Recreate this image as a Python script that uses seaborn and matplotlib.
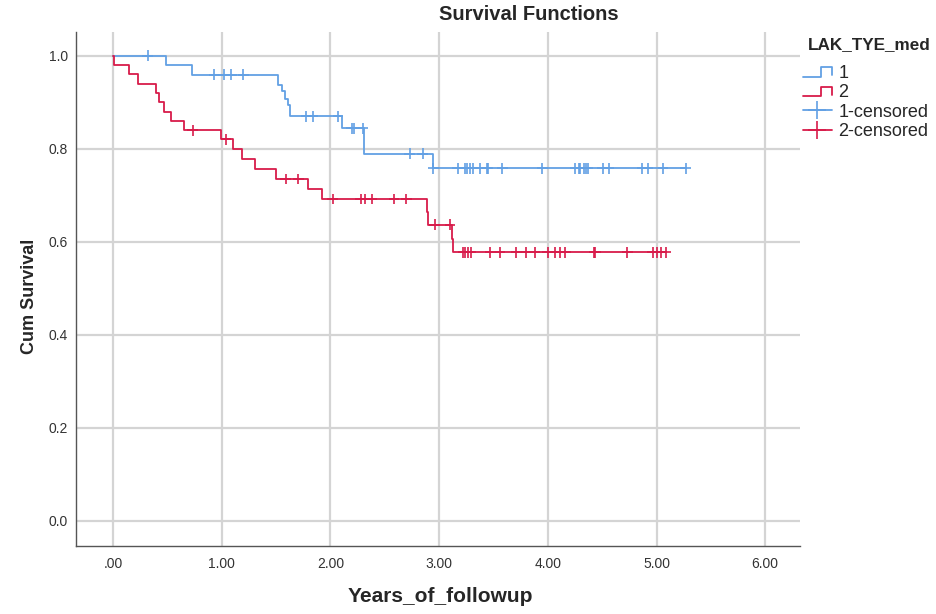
import numpy as np
import pandas as pd
import matplotlib
matplotlib.use('Agg')
import matplotlib.pyplot as plt
import seaborn as sns
from matplotlib.lines import Line2D
from matplotlib.legend_handler import HandlerBase

# group 1 (blue) - step times and survival after each step
times1 = [0.0, 0.485, 0.73, 1.515, 1.558, 1.586, 1.61, 1.628, 2.11, 2.31, 2.94]
surv1 = [1.0, 0.98, 0.959, 0.938, 0.925, 0.908, 0.894, 0.870, 0.844, 0.789, 0.758]
cens1 = [0.32, 0.93, 1.02, 1.09, 1.20, 1.775, 1.84, 2.07, 2.196, 2.217, 2.30,
         2.73, 2.85, 2.947, 3.17, 3.24, 3.26, 3.28, 3.31, 3.38, 3.44, 3.45,
         3.58, 3.95, 4.25, 4.29, 4.30, 4.33, 4.35, 4.37, 4.505, 4.56, 4.87,
         4.92, 5.06, 5.27]

# group 2 (red)
times2 = [0.0, 0.005, 0.15, 0.227, 0.40, 0.42, 0.466, 0.534, 0.653, 0.994,
          1.10, 1.185, 1.31, 1.497, 1.79, 1.92, 2.885, 2.895, 3.116, 3.125]
surv2 = [1.0, 0.98, 0.96, 0.94, 0.92, 0.90, 0.88, 0.86, 0.84, 0.82,
         0.80, 0.778, 0.757, 0.735, 0.714, 0.692, 0.665, 0.637, 0.607, 0.577]
cens2 = [0.733, 1.04, 1.59, 1.705, 2.02, 2.28, 2.32, 2.38, 2.585, 2.70, 2.96,
         3.10, 3.22, 3.24, 3.27, 3.29, 3.47, 3.56, 3.71, 3.80, 3.88, 4.00,
         4.07, 4.11, 4.16, 4.425, 4.437, 4.73, 4.965, 5.00, 5.04, 5.087]

groups = ['1', '2']
xticks = [0, 1, 2, 3, 4, 5, 6]
xticklabels = ['.00', '1.00', '2.00', '3.00', '4.00', '5.00', '6.00']
yticks = [0.0, 0.2, 0.4, 0.6, 0.8, 1.0]

colors = {'1': '#62a0e4', '2': '#d81b4a'}

# build frames
rows, crows = [], []
for g, t, s, c in [('1', times1, surv1, cens1), ('2', times2, surv2, cens2)]:
    tt = list(t) + [c[-1]]
    ss = list(s) + [s[-1]]
    for a, b in zip(tt, ss):
        rows.append({'time': a, 'surv': b, 'group': g})
    idx = np.searchsorted(t, c, side='right') - 1
    for a, i in zip(c, idx):
        crows.append({'time': a, 'surv': s[i], 'group': g})
lines = pd.DataFrame(rows)
cens = pd.DataFrame(crows)

sns.set_style('whitegrid')
plt.rcParams['font.family'] = ['Liberation Sans', 'DejaVu Sans']

fig = plt.figure(figsize=(9.36, 6.14), dpi=100)
ax = fig.add_axes([76/936, (614-546)/614, (800-76)/936, (546-32)/614])

sns.lineplot(data=lines, x='time', y='surv', hue='group', palette=colors,
             drawstyle='steps-post', estimator=None, sort=False, lw=1.3,
             legend=False, ax=ax)
sns.scatterplot(data=cens, x='time', y='surv', hue='group', palette=colors,
                marker='+', s=60, linewidth=1.2, legend=False, ax=ax, zorder=3)

ax.set_xlim(-0.34, 6.32)
ax.set_ylim(-0.054, 1.051)
ax.set_xticks(xticks)
ax.set_xticklabels(xticklabels)
ax.set_yticks(yticks)
ax.set_yticklabels(['%.1f' % v for v in yticks])
ax.tick_params(labelsize=10, colors='#333333', length=0)
ax.tick_params(axis='x', pad=8)
ax.tick_params(axis='y', pad=6)
ax.grid(True, color='#d4d4d4', lw=1.6)
for sp in ['top', 'right']:
    ax.spines[sp].set_visible(False)
for sp in ['left', 'bottom']:
    ax.spines[sp].set_color('#555555')
    ax.spines[sp].set_linewidth(1.0)
ax.set_xlabel('')
ax.set_ylabel('')

fig.text(529/936, 1 - 15/614, 'Survival Functions', ha='center', va='center',
         fontsize=14.5, fontweight='bold')
fig.text(440/936, 1 - 597/614, 'Years_of_followup', ha='center', va='center',
         fontsize=15, fontweight='bold')
fig.text(30/936, 1 - 296/614, 'Cum Survival', ha='center', va='center',
         rotation=90, fontsize=13, fontweight='bold')
fig.text(808/936, 1 - 45/614, 'LAK_TYE_med', ha='left', va='center',
         fontsize=12.3, fontweight='bold')


class StepHandler(HandlerBase):
    def create_artists(self, legend, orig_handle, xdescent, ydescent,
                       width, height, fontsize, trans):
        x0 = -xdescent
        y0 = -ydescent
        xs = [x0, x0 + 0.62*width, x0 + 0.62*width, x0 + width, x0 + width]
        ys = [y0 + 0.1*height, y0 + 0.1*height, y0 + 0.85*height,
              y0 + 0.85*height, y0 + 0.2*height]
        ln = Line2D(xs, ys, color=orig_handle.get_color(), lw=1.3,
                    transform=trans)
        return [ln]


handles = [Line2D([], [], color=colors['1']), Line2D([], [], color=colors['2']),
           Line2D([], [], color=colors['1'], marker='+', ms=13, mew=1.2, lw=1.3),
           Line2D([], [], color=colors['2'], marker='+', ms=13, mew=1.2, lw=1.3)]
labels = ['1', '2', '1-censored', '2-censored']
leg = fig.legend(handles, labels, loc='upper left',
                 bbox_to_anchor=(803/936, 1 - 65/614), frameon=False,
                 fontsize=13, handlelength=1.6, handletextpad=0.35,
                 labelspacing=0.13, borderpad=0, borderaxespad=0,
                 handler_map={handles[0]: StepHandler(), handles[1]: StepHandler()})

fig.savefig('out.png', dpi=100)
